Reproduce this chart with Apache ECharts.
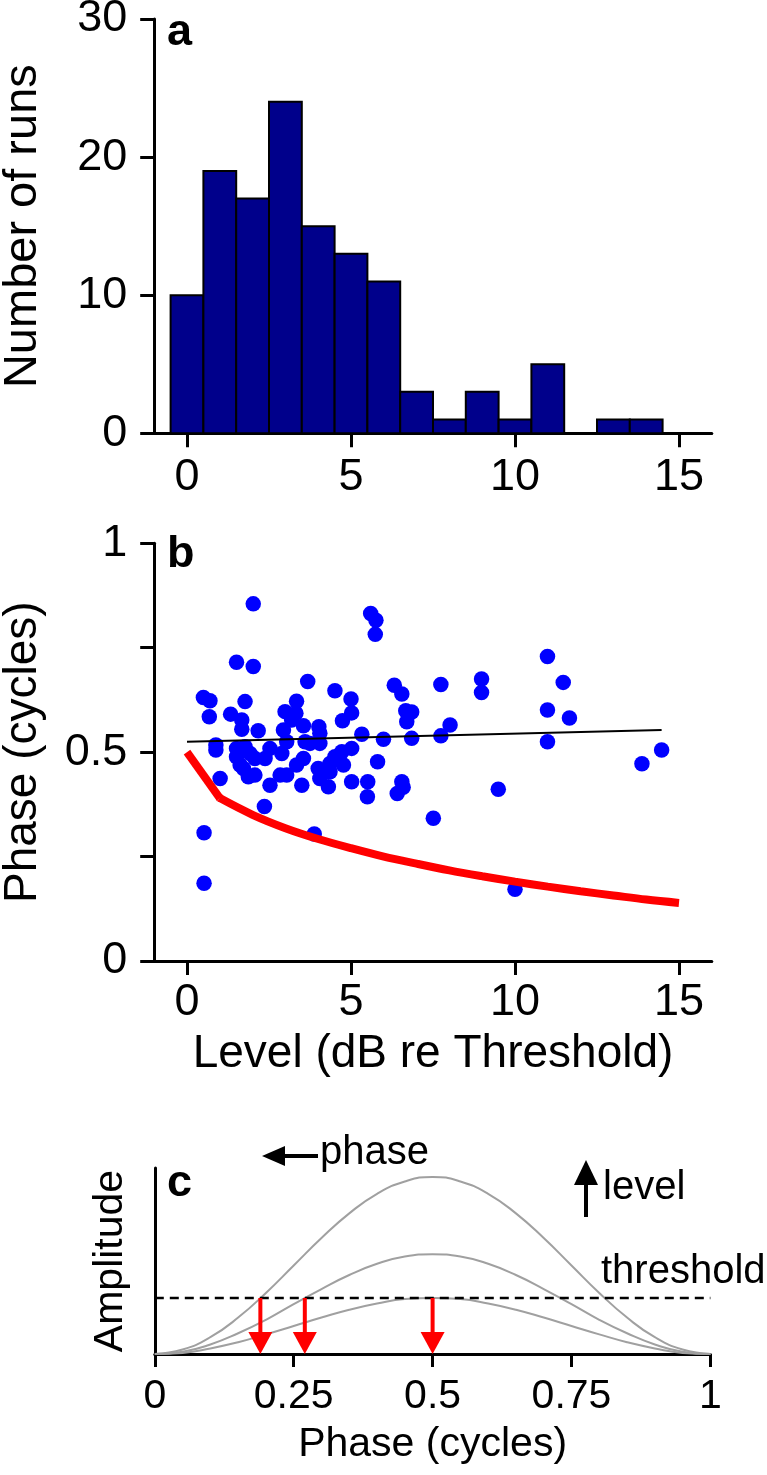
<!DOCTYPE html>
<html>
<head>
<meta charset="utf-8">
<script src="https://cdn.jsdelivr.net/npm/echarts@6/dist/echarts.min.js"></script>
<style>
html,body{margin:0;padding:0;background:#fff;}
#chart{width:767px;height:1475px;}
</style>
</head>
<body>
<div id="chart"></div>
<script>
// ---------- Panel a: histogram ----------
const histBins   = [0, 1, 2, 3, 4, 5, 6, 7, 8, 9, 10, 11, 12, 13, 14];
const histCounts = [10, 19, 17, 24, 15, 13, 11, 3, 1, 3, 1, 5, 0, 1, 1];
const levelTicks = [0, 5, 10, 15];
const countTicks = [0, 10, 20, 30];

// ---------- Panel b: phase vs level ----------
const runLevels = [2.02, 5.60, 5.76, 5.74, 1.51, 2.02, 3.68, 0.50, 0.70, 4.51, 5.00, 6.32, 6.55, 1.77, 3.34,
  0.68, 1.33, 1.67, 2.99, 3.32, 5.02, 4.74, 6.67, 6.85, 6.70, 7.74, 1.67, 2.17, 2.94, 3.19,
  3.55, 4.02, 4.05, 5.33, 5.99, 6.85, 7.74, 8.02, 0.88, 0.88, 1.51, 1.77, 1.51, 1.92, 1.62,
  2.07, 2.38, 2.53, 2.89, 3.04, 3.60, 3.75, 4.05, 3.55, 3.34, 2.84, 3.04, 2.53, 1.72, 1.87,
  2.07, 1.01, 3.50, 4.00, 4.05, 4.31, 4.36, 4.51, 4.72, 5.02, 4.77, 4.36, 5.02, 5.51, 5.50,
  5.81, 6.55, 6.41, 6.59, 2.36, 7.51, 0.52, 3.88, 0.52, 10.0, 10.99, 8.98, 8.98, 11.47, 10.99,
  11.66, 10.99, 14.47, 13.87, 9.49];
const runPhases = [0.855, 0.832, 0.816, 0.782, 0.715, 0.705, 0.669, 0.631, 0.623, 0.647, 0.627, 0.660, 0.639, 0.621, 0.622,
  0.585, 0.591, 0.577, 0.597, 0.593, 0.594, 0.575, 0.599, 0.596, 0.573, 0.662, 0.555, 0.551, 0.553, 0.577,
  0.563, 0.561, 0.545, 0.543, 0.531, 0.533, 0.539, 0.565, 0.517, 0.505, 0.509, 0.513, 0.489, 0.497, 0.469,
  0.485, 0.485, 0.509, 0.497, 0.525, 0.525, 0.521, 0.521, 0.485, 0.469, 0.445, 0.445, 0.421, 0.461, 0.441,
  0.445, 0.437, 0.421, 0.461, 0.437, 0.417, 0.473, 0.489, 0.501, 0.509, 0.469, 0.453, 0.429, 0.429, 0.393,
  0.477, 0.429, 0.401, 0.416, 0.370, 0.342, 0.307, 0.304, 0.186, 0.172, 0.729, 0.675, 0.643, 0.667, 0.601,
  0.582, 0.525, 0.505, 0.472, 0.411];
const fitLevels = [0, 14.47];
const fitPhases = [0.525, 0.553];
const modelLevels = [0, 1, 2, 3, 4, 5, 6, 7, 8, 9, 10, 11, 12, 13, 14, 15];
const modelPhases = [0.50, 0.39, 0.35, 0.318, 0.292, 0.270, 0.250, 0.233, 0.217, 0.203, 0.190, 0.178, 0.167, 0.157, 0.147, 0.139];
const phaseTicksB = [0, 0.25, 0.5, 0.75, 1];
const phaseLabelsB = [0, 0.5, 1];

// ---------- Panel c: schematic ----------
const cyclePhase = [0, 0.05, 0.1, 0.15, 0.2, 0.25, 0.3, 0.35, 0.4, 0.45, 0.5, 0.55, 0.6, 0.65, 0.7, 0.75, 0.8, 0.85, 0.9, 0.95, 1];
const ampLow  = [0, 0.02, 0.10, 0.21, 0.35, 0.50, 0.65, 0.79, 0.90, 0.98, 1.00, 0.98, 0.90, 0.79, 0.65, 0.50, 0.35, 0.21, 0.10, 0.02, 0];
const ampMid  = [0, 0.04, 0.17, 0.37, 0.61, 0.89, 1.16, 1.41, 1.61, 1.74, 1.78, 1.74, 1.61, 1.41, 1.16, 0.89, 0.61, 0.37, 0.17, 0.04, 0];
const ampHigh = [0, 0.08, 0.30, 0.65, 1.09, 1.58, 2.07, 2.51, 2.86, 3.08, 3.16, 3.08, 2.86, 2.51, 2.07, 1.58, 1.09, 0.65, 0.30, 0.08, 0];
const thresholdLevel = 1;
const crossingPhases = [0.19, 0.27, 0.5];
const phaseTicksC = [0, 0.25, 0.5, 0.75, 1];

const FONT = "'Liberation Sans', Arial, Helvetica, sans-serif";
const AX = { lineStyle: { color: '#000', width: 3 } };
const TICK = { show: true, inside: false, length: 14, lineStyle: { color: '#000', width: 3 } };

const chart = echarts.init(document.getElementById('chart'), null, { renderer: 'canvas' });

const zip = (xs, ys) => xs.map((x, i) => [x, ys[i]]);
const histData = zip(histBins, histCounts);
const scatterData = zip(runLevels, runPhases);
const fitData = zip(fitLevels, fitPhases);
const modelData = zip(modelLevels, modelPhases);

const option = {
  animation: false,
  backgroundColor: '#fff',
  textStyle: { fontFamily: FONT },
  grid: [
    { left: 154.2, top: 19, width: 557.6, height: 414.3, outerBoundsMode: 'none' },
    { left: 154.2, top: 543.3, width: 557.6, height: 417.7, outerBoundsMode: 'none' },
    { left: 154.8, top: 1168, width: 555.6, height: 186, outerBoundsMode: 'none' }
  ],
  xAxis: [
    { gridIndex: 0, type: 'value', min: -1, max: 16,
      axisLine: { show: true, onZero: false, ...AX },
      axisTick: { ...TICK, customValues: levelTicks },
      axisLabel: { customValues: levelTicks, fontSize: 45, color: '#000', margin: 22, fontFamily: FONT },
      splitLine: { show: false } },
    { gridIndex: 1, type: 'value', min: -1, max: 16,
      axisLine: { show: true, onZero: false, ...AX },
      axisTick: { ...TICK, customValues: levelTicks },
      axisLabel: { customValues: levelTicks, fontSize: 45, color: '#000', margin: 19, fontFamily: FONT },
      splitLine: { show: false },
      name: 'Level (dB re Threshold)', nameLocation: 'middle', nameGap: 70,
      nameTextStyle: { fontSize: 46, color: '#000', fontFamily: FONT } },
    { gridIndex: 2, type: 'value', min: 0, max: 1, interval: 0.25,
      axisLine: { show: true, onZero: false, ...AX },
      axisTick: { ...TICK, length: 13, customValues: phaseTicksC },
      axisLabel: { customValues: phaseTicksC, fontSize: 41, color: '#000', margin: 22, fontFamily: FONT,
        showMinLabel: true, showMaxLabel: true },
      splitLine: { show: false },
      name: 'Phase (cycles)', nameLocation: 'middle', nameGap: 70,
      nameTextStyle: { fontSize: 41, color: '#000', fontFamily: FONT } }
  ],
  yAxis: [
    { gridIndex: 0, type: 'value', min: 0, max: 30, interval: 10,
      axisLine: { show: true, onZero: false, ...AX },
      axisTick: { ...TICK, customValues: countTicks },
      axisLabel: { customValues: countTicks, fontSize: 45, color: '#000', margin: 27, fontFamily: FONT },
      splitLine: { show: false },
      name: 'Number of runs', nameLocation: 'middle', nameGap: 108,
      nameTextStyle: { fontSize: 47, color: '#000', fontFamily: FONT } },
    { gridIndex: 1, type: 'value', min: 0, max: 1, interval: 0.25,
      axisLine: { show: true, onZero: false, ...AX },
      axisTick: { ...TICK, customValues: phaseTicksB },
      axisLabel: { customValues: phaseLabelsB, fontSize: 45, color: '#000', margin: 27, fontFamily: FONT },
      splitLine: { show: false },
      name: 'Phase (cycles)', nameLocation: 'middle', nameGap: 108,
      nameTextStyle: { fontSize: 46, color: '#000', fontFamily: FONT } },
    { gridIndex: 2, type: 'value', min: 0, max: 3.32,
      axisLine: { show: true, onZero: false, ...AX },
      axisTick: { show: false }, axisLabel: { show: false },
      splitLine: { show: false },
      name: 'Amplitude', nameLocation: 'middle', nameGap: 24,
      nameTextStyle: { fontSize: 41, color: '#000', fontFamily: FONT } }
  ],
  series: [
    { type: 'custom', xAxisIndex: 0, yAxisIndex: 0, data: histData,
      renderItem: function (params, api) {
        const x = api.value(0), y = api.value(1);
        const p0 = api.coord([x - 0.5, y]);
        const p1 = api.coord([x + 0.5, 0]);
        return { type: 'rect',
          shape: { x: p0[0], y: p0[1], width: p1[0] - p0[0], height: p1[1] - p0[1] },
          style: { fill: '#00008b', stroke: '#000', lineWidth: 2 } };
      } },
    { type: 'scatter', xAxisIndex: 1, yAxisIndex: 1, data: scatterData,
      symbol: 'circle', symbolSize: 15.5, itemStyle: { color: '#0000ff', opacity: 1 }, z: 2 },
    { type: 'line', xAxisIndex: 1, yAxisIndex: 1, data: fitData, showSymbol: false, symbol: 'none',
      lineStyle: { color: '#000', width: 2 }, z: 3 },
    // model curve: straight first segment (kink at 1 dB), smooth afterwards
    { type: 'line', xAxisIndex: 1, yAxisIndex: 1, data: modelData.slice(0, 2), showSymbol: false, symbol: 'none',
      lineStyle: { color: '#ff0000', width: 8, cap: 'butt' }, z: 4 },
    { type: 'line', xAxisIndex: 1, yAxisIndex: 1, data: modelData.slice(1), smooth: 0.35,
      showSymbol: false, symbol: 'none',
      lineStyle: { color: '#ff0000', width: 8, cap: 'butt' }, z: 4 },
    { type: 'scatter', xAxisIndex: 1, yAxisIndex: 1, data: [modelData[1]], symbol: 'circle', symbolSize: 8,
      itemStyle: { color: '#ff0000' }, z: 4, silent: true },
    { type: 'line', xAxisIndex: 2, yAxisIndex: 2, data: zip(cyclePhase, ampHigh), smooth: true, symbol: 'none',
      lineStyle: { color: '#a0a0a0', width: 2 }, z: 2 },
    { type: 'line', xAxisIndex: 2, yAxisIndex: 2, data: zip(cyclePhase, ampMid), smooth: true, symbol: 'none',
      lineStyle: { color: '#a0a0a0', width: 2 }, z: 2 },
    { type: 'line', xAxisIndex: 2, yAxisIndex: 2, data: zip(cyclePhase, ampLow), smooth: true, symbol: 'none',
      lineStyle: { color: '#a0a0a0', width: 2 }, z: 2 },
    { type: 'line', xAxisIndex: 2, yAxisIndex: 2, data: [[0, thresholdLevel], [1, thresholdLevel]], symbol: 'none',
      lineStyle: { color: '#000', width: 2.5, type: [9, 6] }, z: 3 },
    { type: 'custom', xAxisIndex: 2, yAxisIndex: 2, data: crossingPhases.map(p => [p, thresholdLevel]), z: 5,
      renderItem: function (params, api) {
        const top = api.coord([api.value(0), api.value(1)]);
        const bot = api.coord([api.value(0), 0]);
        const hw = 12, hh = 22;
        return { type: 'group', children: [
          { type: 'line', shape: { x1: top[0], y1: top[1], x2: bot[0], y2: bot[1] - hh + 2 },
            style: { stroke: '#ff0000', lineWidth: 4 } },
          { type: 'polygon', shape: { points: [[bot[0] - hw, bot[1] - hh], [bot[0] + hw, bot[1] - hh], [bot[0], bot[1]]] },
            style: { fill: '#ff0000' } }
        ] };
      } }
  ],
  graphic: [
    { type: 'text', left: 167, top: 10, style: { text: 'a', font: 'bold 45px ' + FONT, fill: '#000' } },
    { type: 'text', left: 167, top: 532, style: { text: 'b', font: 'bold 45px ' + FONT, fill: '#000' } },
    { type: 'text', left: 167, top: 1161, style: { text: 'c', font: 'bold 45px ' + FONT, fill: '#000' } },
    // "phase" arrow (pointing left)
    { type: 'line', shape: { x1: 282, y1: 1156, x2: 318, y2: 1156 }, style: { stroke: '#000', lineWidth: 4 } },
    { type: 'polygon', shape: { points: [[262, 1156], [285, 1146], [285, 1166]] }, style: { fill: '#000' } },
    { type: 'text', left: 320, top: 1133, style: { text: 'phase', font: '40px ' + FONT, fill: '#000' } },
    // "level" arrow (pointing up)
    { type: 'line', shape: { x1: 586, y1: 1182, x2: 586, y2: 1217 }, style: { stroke: '#000', lineWidth: 4 } },
    { type: 'polygon', shape: { points: [[586, 1160], [574, 1185], [598, 1185]] }, style: { fill: '#000' } },
    { type: 'text', left: 603, top: 1168, style: { text: 'level', font: '40px ' + FONT, fill: '#000' } },
    { type: 'text', left: 601, top: 1252, style: { text: 'threshold', font: '40px ' + FONT, fill: '#000' } }
  ]
};
chart.setOption(option);
</script>
</body>
</html>
